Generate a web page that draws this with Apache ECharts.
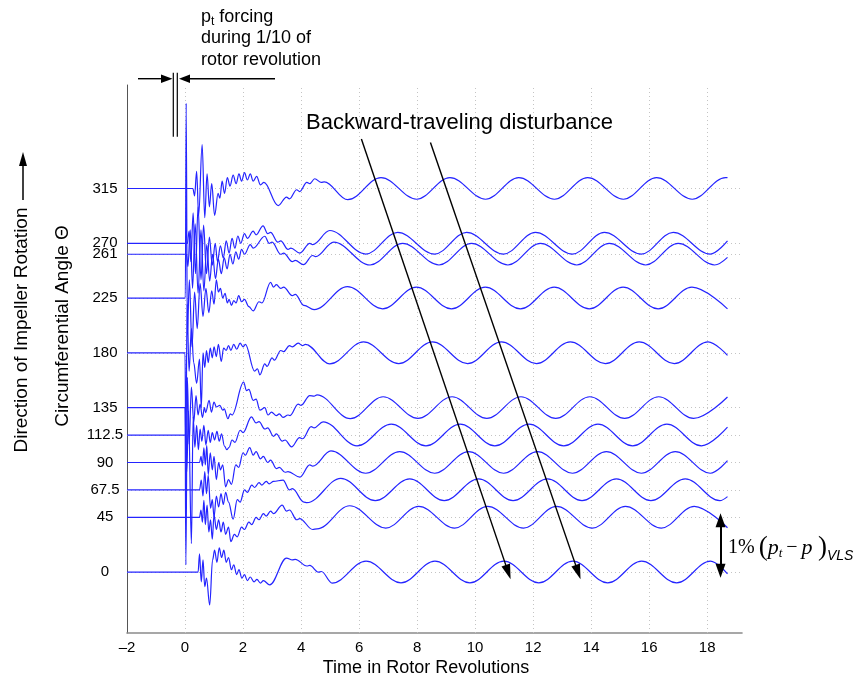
<!DOCTYPE html>
<html><head><meta charset="utf-8">
<script src="https://cdn.jsdelivr.net/npm/echarts@6/dist/echarts.min.js"></script>
<style>html,body{margin:0;padding:0;background:#fff}#c{width:860px;height:686px}</style>
</head><body><div id="c"></div>
<script>
// Circumferential angles (trace baselines) and x ticks
const angleLabels = [0, 45, 67.5, 90, 112.5, 135, 180, 225, 261, 270, 315];
const xTicks = [-2, 0, 2, 4, 6, 8, 10, 12, 14, 16, 18];

// Pressure traces: [time in rotor revolutions, offset from baseline in axis units]
const trace315 = [[-2,0],[0.27,0],[0.33,-6],[0.4,14],[0.47,-22],[0.59,36],[0.68,-24],[0.76,12],[0.84,-15],[0.92,4],[1.02,-22],[1.14,-4],[1.2,-8],[1.28,6],[1.36,-4],[1.46,9],[1.55,2],[1.66,11],[1.76,4],[1.86,12],[1.95,6],[2.05,13],[2.15,7],[2.25,12],[2.35,6],[2.47,10],[2.6,3],[2.72,5],[3.21,-14],[3.5,-7],[3.6,-8.5],[3.85,-1],[3.95,-2.5],[4.2,5],[4.3,4],[4.47,8],[4.7,5],[4.8,5.5],[5.61,-9.2],
  [6.755,9],[7.985,-8.8],[9.13,9],[10.36,-8.8],[11.505,9],[12.735,-8.8],[13.88,9],[15.11,-8.8],[16.255,9],[17.485,-8.8],[18.63,9],[18.7,8.9]];
const trace270 = [[-2,0],[0.08,0],[0.14,10],[0.2,-15],[0.28,25],[0.36,-25],[0.45,30],[0.55,-30],[0.64,15],[0.74,-25],[0.84,5],[0.94,-18],[1.04,0],[1.12,-15],[1.22,-2],[1.32,-12],[1.42,2],[1.52,-8],[1.62,4],[1.72,-4],[1.82,6],[1.92,0],[2.05,8],[2.15,4],[2.35,10],[2.45,7],[2.69,14.4],[2.85,8],[2.95,9],[3.2,1],[3.3,2],[3.55,-5],[3.65,-4],[3.96,-8],[4.3,0],[4.4,-1],[4.99,10.5],
  [6.23,-8.8],[7.33,9],[8.605,-8.8],[9.705,9],[10.98,-8.8],[12.08,9],[13.355,-8.8],[14.455,9],[15.73,-8.8],[16.83,9],[18.105,-8.8],[18.7,2]];
const trace261 = [[-2,0],[0.05,0],[0.1,-10],[0.18,20],[0.26,-28],[0.35,25],[0.45,-32],[0.55,20],[0.65,-30],[0.75,8],[0.85,-22],[0.95,0],[1.05,-20],[1.15,-4],[1.25,-16],[1.35,-3],[1.45,-12],[1.55,0],[1.65,-8],[1.75,2],[1.85,-4],[1.95,4],[2.05,0],[2.25,8],[2.35,5],[2.75,14.8],[2.9,9],[3.0,10],[3.3,0],[3.4,1],[3.7,-6],[3.8,-5],[4.08,-8.5],[4.4,-1],[4.5,-2],[5.125,10],
  [6.38,-8.8],[7.5,9],[8.755,-8.8],[9.875,9],[11.13,-8.8],[12.25,9],[13.505,-8.8],[14.625,9],[15.88,-8.8],[17.0,9],[18.255,-8.8],[18.7,-2.5]];
const trace225 = [[-2,0],[0.01,0],[0.04,160],[0.08,-30],[0.15,15],[0.24,-40],[0.33,5],[0.42,-25],[0.52,12],[0.62,-15],[0.72,8],[0.82,-12],[0.92,6],[1.0,-5],[1.08,15],[1.15,5],[1.22,8],[1.3,0],[1.38,4],[1.46,-4],[1.52,-1],[1.6,-6],[1.68,-2],[1.76,-4],[1.85,2],[1.95,-3],[2.05,-1],[2.2,-7],[2.35,-10.5],[2.55,-3],[2.65,-4],[2.95,13],[3.05,9],[3.15,11],[3.3,8],[3.4,9],[3.7,2],[3.8,3],[4.1,-6],[4.45,-9.5],[5.6,9.5],
  [6.81,-8.8],[7.975,9],[9.185,-8.8],[10.35,9],[11.56,-8.8],[12.725,9],[13.935,-8.8],[15.1,9],[16.31,-8.8],[17.475,9],[18.7,-8.8]];
const trace180 = [[-2,0],[0.0,0],[0.03,-90],[0.07,40],[0.14,-15],[0.22,20],[0.3,-8],[0.4,-25],[0.5,-5],[0.56,-45],[0.62,0],[0.68,-12],[0.74,2],[0.8,-8],[0.87,4],[0.94,-4],[1.0,5],[1.08,-3],[1.15,7],[1.25,-7],[1.33,4],[1.42,2],[1.5,6],[1.58,2],[1.68,7],[1.78,3],[1.9,8],[2.0,5],[2.08,7],[2.4,-15],[2.5,-13],[2.58,-18],[2.75,-9],[2.83,-11],[3.0,-4],[3.08,-6],[3.3,2],[3.4,1],[3.6,6],[3.7,5],[3.9,8],[4.05,6],[4.15,7],[4.99,-9],
  [6.153,9],[7.366,-8.8],[8.53,9],[9.74,-8.8],[10.905,9],[12.115,-8.8],[13.28,9],[14.49,-8.8],[15.655,9],[16.865,-8.8],[18.03,9],[18.7,-2]];
const trace135 = [[-2,0],[0.0,0],[0.03,-129],[0.08,25],[0.14,-30],[0.22,17],[0.3,-12],[0.38,10],[0.45,-6],[0.52,3],[0.6,-8],[0.67,0],[0.71,-4],[0.83,6],[0.91,-3.6],[1.0,4.6],[1.08,0.6],[1.2,2],[1.3,-2],[1.35,-1],[1.48,-9],[1.56,-5],[1.62,-6],[2.02,21],[2.12,14],[2.2,15],[2.35,6],[2.45,7],[2.58,-2],[2.75,0],[2.86,-6],[2.98,-3.6],[3.15,-6.5],[3.25,-5],[3.38,-8],[3.55,-6],[3.62,-6.5],[3.9,3],[4.0,2],[4.3,10],[4.45,9.5],[4.55,10.5],[5.7,-9],
  [6.83,9],[8.03,-8.8],[9.205,9],[10.405,-8.8],[11.58,9],[12.78,-8.8],[13.955,9],[15.155,-8.8],[16.33,9],[17.53,-8.8],[18.7,8.8]];
const trace112 = [[-2,0],[0.03,0],[0.06,-30],[0.12,20],[0.22,-89],[0.28,15],[0.34,-10],[0.4,8],[0.46,-12],[0.52,5],[0.58,-5],[0.65,8],[0.72,-8],[0.8,4],[0.87,-6],[0.94,2],[1.02,-4],[1.1,3],[1.18,-5],[1.26,1],[1.36,-9],[1.44,-12],[1.52,-10],[1.62,-4],[1.72,-6],[1.9,4],[2.0,2],[2.29,15],[2.45,10],[2.55,11],[2.75,5],[2.85,6],[3.05,-1],[3.15,1],[3.35,-5],[3.45,-4],[3.67,-9.6],[3.95,-2],[4.05,-3],[4.35,7],[4.45,6],[4.76,10.9],
  [5.93,-8.8],[7.11,9],[8.305,-8.8],[9.485,9],[10.68,-8.8],[11.86,9],[13.055,-8.8],[14.235,9],[15.43,-8.8],[16.61,9],[17.805,-8.8],[18.7,6.5]];
const trace90 = [[-2,0],[0.5,0],[0.55,5],[0.6,-3],[0.65,12],[0.7,-2],[0.75,14],[0.8,-10],[0.87,8],[0.94,-6],[1.0,5],[1.08,-14],[1.16,0],[1.22,-6],[1.3,-2],[1.4,-20],[1.5,-14],[1.6,-18],[1.75,-2],[1.85,-4],[2.0,8],[2.08,6],[2.23,12.3],[2.35,6],[2.45,9],[2.6,3],[2.7,5],[2.85,0],[2.95,2],[3.15,-5],[3.25,-4],[3.45,-8],[3.55,-7.5],[3.96,-12],[4.3,-2],[4.4,-3],[5.03,9.5],
  [6.23,-8.8],[7.4,9],[8.605,-8.8],[9.775,9],[10.98,-8.8],[12.15,9],[13.355,-8.8],[14.525,9],[15.73,-8.8],[16.9,9],[18.105,-8.8],[18.7,1.5]];
const trace67 = [[-2,0],[0.5,0],[0.56,8],[0.62,-5],[0.68,15],[0.74,-3],[0.8,12],[0.88,-15],[0.94,-8],[1.0,-22],[1.08,-5],[1.16,-14],[1.24,-3],[1.32,-12],[1.4,-2],[1.5,-10],[1.66,-24],[1.8,-8],[1.9,-10],[2.05,0],[2.15,-2],[2.3,4],[2.4,2],[2.55,6],[2.65,4],[2.8,7],[2.9,5],[3.05,7],[3.38,8],[3.6,0],[3.7,1],[4.1,-10],[4.2,-10.5],[5.37,9.5],
  [6.56,-8.8],[7.745,9],[8.935,-8.8],[10.12,9],[11.31,-8.8],[12.495,9],[13.685,-8.8],[14.87,9],[16.06,-8.8],[17.245,9],[18.435,-8.8],[18.7,-5.5]];
const trace45 = [[-2,0],[0.5,0],[0.55,6],[0.6,-4],[0.65,14],[0.7,-6],[0.76,10],[0.82,-12],[0.88,-2],[0.94,-18],[1.0,2],[1.08,-10],[1.16,-2],[1.24,-12],[1.32,-4],[1.4,-14],[1.5,-8],[1.58,-20],[1.7,-14],[1.8,-16],[1.95,-8],[2.05,-10],[2.2,-4],[2.3,-6],[2.45,0],[2.55,-2],[2.7,3],[2.8,1],[2.95,5],[3.05,3],[3.35,10],[3.5,5],[3.6,6],[3.85,-2],[3.95,-1],[4.4,-10],[4.55,-9.5],[5.68,9.5],
  [6.92,-8.8],[8.055,9],[9.295,-8.8],[10.43,9],[11.67,-8.8],[12.805,9],[14.045,-8.8],[15.18,9],[16.42,-8.8],[17.555,9],[18.7,-8.6]];
const trace0 = [[-2,0],[0.45,0],[0.5,15],[0.56,-8],[0.62,10],[0.68,-12],[0.74,-5],[0.85,-27],[0.95,10],[1.02,18],[1.1,8],[1.18,20],[1.26,12],[1.34,18],[1.42,8],[1.5,12],[1.6,2],[1.68,6],[1.78,-2],[1.86,2],[1.96,-5],[2.05,-2],[2.15,-7],[2.25,-4],[2.38,-8],[2.48,-6],[2.6,-9],[2.7,-7],[2.92,-10.5],[3.5,11.5],[3.7,10],[3.8,10.5],[4.2,5],[4.3,5.5],[4.6,0],[4.7,0.5],[5.07,-9],
  [6.24,9],[7.445,-8.8],[8.615,9],[9.82,-8.8],[10.99,9],[12.195,-8.8],[13.365,9],[14.57,-8.8],[15.74,9],[16.945,-8.8],[18.115,9],[18.7,-1.5]];

const traces = [
  [0, trace0], [45, trace45], [67.5, trace67], [90, trace90], [112.5, trace112], [135, trace135],
  [180, trace180], [225, trace225], [261, trace261], [270, trace270], [315, trace315]
];

// Annotation anchors (data coordinates)
const arrowLines = [[[6.08, 355.6], [11.14, 0]], [[8.46, 352.8], [13.55, 0]]];
const scaleBar = [[18.46, 1.1], [18.46, 42.5]];

const FONT = 'Liberation Sans, Arial, Helvetica, sans-serif';
const SERIF = 'Liberation Serif, Times New Roman, serif';
const chart = echarts.init(document.getElementById('c'), null, {renderer: 'canvas'});

const series = traces.map(([base, tr]) => ({
  type: 'line',
  data: tr.map(([t, d]) => [t, base + d]),
  showSymbol: false,
  smooth: 0.364,
  smoothMonotone: 'x',
  lineStyle: {color: '#2424ff', width: 1.2},
  silent: true,
  z: 3
}));

series.push({
  type: 'line', data: [], silent: true, z: 1,
  markLine: {
    silent: true, symbol: 'none', animation: false, z: 1,
    label: {show: false},
    lineStyle: {color: '#c4c4c4', type: [1, 3], width: 1},
    data: xTicks.filter(v => v > -2).map(v => ({xAxis: v})).concat(angleLabels.map(v => ({yAxis: v})))
  }
});
series.push({
  type: 'line', data: [], silent: true, z: 6,
  markLine: {
    silent: true, animation: false, z: 6,
    symbol: ['none', 'triangle'], symbolSize: [9, 15],
    label: {show: false},
    lineStyle: {color: '#000', type: 'solid', width: 1.4},
    data: arrowLines.map(([a, b]) => [{coord: a}, {coord: b}])
  }
});
series.push({
  type: 'line', data: [], silent: true, z: 6,
  markLine: {
    silent: true, animation: false, z: 6,
    symbol: ['triangle', 'triangle'], symbolSize: [10, 14],
    label: {show: false},
    lineStyle: {color: '#000', type: 'solid', width: 2},
    data: [[{coord: scaleBar[0]}, {coord: scaleBar[1]}]]
  }
});

const option = {
  animation: false,
  backgroundColor: '#fff',
  grid: {left: 127, right: 118, top: 85, bottom: 53, containLabel: false},
  xAxis: {
    type: 'value', min: -2, max: 19.2, interval: 2,
    axisLine: {show: true, onZero: false, lineStyle: {color: '#8a8a8a', width: 1.6}},
    axisTick: {show: false},
    splitLine: {show: false},
    axisLabel: {
      color: '#000', fontSize: 15, fontFamily: FONT, margin: 7,
      formatter: v => (v > 18.5 ? '' : (v < 0 ? '\u2013' + Math.abs(v) : String(v)))
    }
  },
  yAxis: {
    type: 'value', min: -50, max: 400,
    axisLine: {show: true, onZero: false, lineStyle: {color: '#555', width: 1}},
    axisTick: {show: false},
    splitLine: {show: false},
    axisLabel: {
      customValues: angleLabels,
      color: '#000', fontSize: 15, fontFamily: FONT, align: 'center', margin: 22,
      formatter: v => String(v)
    }
  },
  series,
  graphic: [
    {type: 'text', x: 426, y: 668, style: {text: 'Time in Rotor Revolutions', font: '18px ' + FONT, fill: '#000', textAlign: 'center', textVerticalAlign: 'middle'}},
    {type: 'text', x: 63, y: 326, rotation: Math.PI / 2, style: {text: 'Circumferential Angle \u0398', font: '19px ' + FONT, fill: '#000', textAlign: 'center', textVerticalAlign: 'middle'}},
    {type: 'text', x: 22, y: 330, rotation: Math.PI / 2, style: {text: 'Direction of Impeller Rotation', font: '19px ' + FONT, fill: '#000', textAlign: 'center', textVerticalAlign: 'middle'}},
    {type: 'line', shape: {x1: 23, y1: 200, x2: 23, y2: 165}, style: {stroke: '#000', lineWidth: 1.5}},
    {type: 'polygon', shape: {points: [[23, 152], [19, 166], [27, 166]]}, style: {fill: '#000'}},
    {type: 'text', x: 306, y: 123, style: {text: 'Backward-traveling disturbance', font: '22px ' + FONT, fill: '#000', textAlign: 'left', textVerticalAlign: 'middle'}},
    {type: 'text', x: 201, y: 17, style: {text: '{n|p}{s|t}{n| forcing}', fill: '#000', textAlign: 'left', textVerticalAlign: 'middle',
      rich: {n: {fontSize: 18, fontFamily: FONT}, s: {fontSize: 12, fontFamily: FONT, padding: [10, 0, 0, 0]}}}},
    {type: 'text', x: 201, y: 38.5, style: {text: 'during 1/10 of', font: '18px ' + FONT, fill: '#000', textAlign: 'left', textVerticalAlign: 'middle'}},
    {type: 'text', x: 201, y: 60, style: {text: 'rotor revolution', font: '18px ' + FONT, fill: '#000', textAlign: 'left', textVerticalAlign: 'middle'}},
    {type: 'line', shape: {x1: 138, y1: 78.7, x2: 165, y2: 78.7}, style: {stroke: '#000', lineWidth: 1.4}},
    {type: 'polygon', shape: {points: [[172.5, 78.7], [161, 74.5], [161, 83]]}, style: {fill: '#000'}},
    {type: 'line', shape: {x1: 186, y1: 78.7, x2: 275, y2: 78.7}, style: {stroke: '#000', lineWidth: 1.4}},
    {type: 'polygon', shape: {points: [[179, 78.7], [190, 74.5], [190, 83]]}, style: {fill: '#000'}},
    {type: 'line', shape: {x1: 173.3, y1: 72.7, x2: 173.3, y2: 136.7}, style: {stroke: '#000', lineWidth: 1.2}},
    {type: 'line', shape: {x1: 177.3, y1: 72.7, x2: 177.3, y2: 136.7}, style: {stroke: '#000', lineWidth: 1.2}},
    {type: 'text', x: 728, y: 548, style: {text: '{a|1%\u2009}{b|(}{p|p}{s|t}{m|\u2009\u2212\u2009}{p|p}{b|\u2009)}{v|VLS}', fill: '#000', textAlign: 'left', textVerticalAlign: 'middle',
      rich: {
        a: {fontSize: 20, fontFamily: SERIF},
        b: {fontSize: 27, fontFamily: SERIF},
        p: {fontSize: 22, fontStyle: 'italic', fontFamily: SERIF},
        s: {fontSize: 13, fontStyle: 'italic', fontFamily: SERIF, padding: [12, 0, 0, 0]},
        m: {fontSize: 20, fontFamily: SERIF},
        v: {fontSize: 14, fontStyle: 'italic', fontFamily: FONT, padding: [16, 0, 0, 0]}
      }}}
  ]
};
chart.setOption(option);
</script>
</body></html>
